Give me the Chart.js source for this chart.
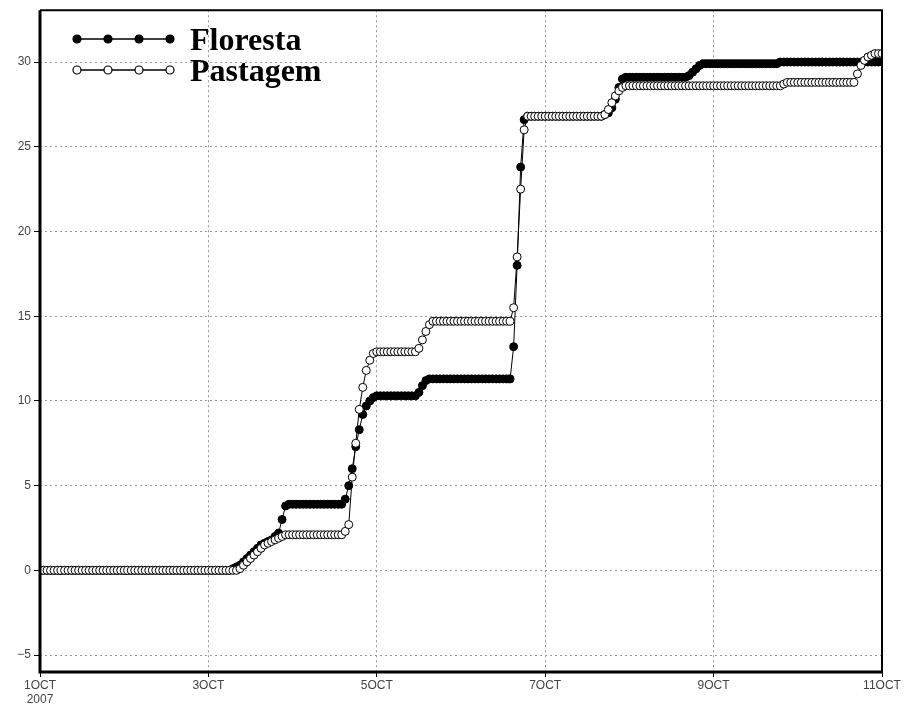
<!DOCTYPE html>
<html>
<head>
<meta charset="utf-8">
<script src="https://cdn.jsdelivr.net/npm/chart.js@4/dist/chart.umd.min.js"></script>
<style>
  html, body { margin: 0; padding: 0; background: #fff; }
  #wrap { width: 908px; height: 713px; }
</style>
</head>
<body>
<div id="wrap"><canvas id="c" width="908" height="713"></canvas></div>
<script>
// Time axis: hours after 1 OCT 2007 00:00 (hourly samples)
const hours = Array.from({ length: 241 }, (_, i) => i);

// Cumulative rainfall (hourly)
const floresta = [
  0,0,0,0,0,0, 0,0,0,0,0,0, 0,0,0,0,0,0, 0,0,0,0,0,0,
  0,0,0,0,0,0, 0,0,0,0,0,0, 0,0,0,0,0,0, 0,0,0,0,0,0,
  0,0,0,0,0,0,0, 0.1,0.2,0.3,0.5,0.7,0.9,1.1,1.3,1.5,1.6,1.7,1.8,2.0,2.2,3.0,3.8, 3.9,
  3.9,3.9,3.9,3.9,3.9,3.9,3.9,3.9,3.9,3.9,3.9,3.9,3.9,3.9,3.9, 4.2,5.0,6.0,7.3,8.3,9.2,9.7,10.0,10.2,
  10.3,10.3,10.3,10.3,10.3,10.3,10.3,10.3,10.3,10.3,10.3,10.3, 10.5,10.9,11.2, 11.3,11.3,11.3,11.3,11.3,11.3,11.3,11.3,11.3,
  11.3,11.3,11.3,11.3,11.3,11.3,11.3,11.3,11.3,11.3,11.3,11.3,11.3,11.3,11.3, 13.2,18.0,23.8,26.6, 26.8,26.8,26.8,26.8,26.8,
  26.8,26.8,26.8,26.8,26.8,26.8,26.8,26.8,26.8,26.8,26.8,26.8,26.8,26.8,26.8,26.8,26.8, 26.9,27.0,27.3,27.8,28.5,29.0, 29.1,
  29.1,29.1,29.1,29.1,29.1,29.1,29.1,29.1,29.1,29.1,29.1,29.1,29.1,29.1,29.1,29.1,29.1, 29.2,29.4,29.6,29.8, 29.9,29.9,29.9,
  29.9,29.9,29.9,29.9,29.9,29.9,29.9,29.9,29.9,29.9,29.9,29.9,29.9,29.9,29.9,29.9,29.9,29.9,29.9, 30.0,30.0,30.0,30.0,30.0,
  30.0,30.0,30.0,30.0,30.0,30.0,30.0,30.0,30.0,30.0,30.0,30.0,30.0,30.0,30.0,30.0,30.0,30.0,30.0,30.0,30.0,30.0,30.0,30.0,
  30.0
];
const pastagem = [
  0,0,0,0,0,0, 0,0,0,0,0,0, 0,0,0,0,0,0, 0,0,0,0,0,0,
  0,0,0,0,0,0, 0,0,0,0,0,0, 0,0,0,0,0,0, 0,0,0,0,0,0,
  0,0,0,0,0,0,0,0,0, 0.1,0.3,0.5,0.7,0.9,1.1,1.3,1.5,1.6,1.7,1.8,1.9,2.0,2.1, 2.1,
  2.1,2.1,2.1,2.1,2.1,2.1,2.1,2.1,2.1,2.1,2.1,2.1,2.1,2.1,2.1, 2.3,2.7,5.5,7.5,9.5,10.8,11.8,12.4,12.8,
  12.9,12.9,12.9,12.9,12.9,12.9,12.9,12.9,12.9,12.9,12.9,12.9, 13.1,13.6,14.1,14.5, 14.7,14.7,14.7,14.7,14.7,14.7,14.7,14.7,
  14.7,14.7,14.7,14.7,14.7,14.7,14.7,14.7,14.7,14.7,14.7,14.7,14.7,14.7,14.7, 15.5,18.5,22.5,26.0, 26.8,26.8,26.8,26.8,26.8,
  26.8,26.8,26.8,26.8,26.8,26.8,26.8,26.8,26.8,26.8,26.8,26.8,26.8,26.8,26.8,26.8,26.8, 26.9,27.2,27.6,28.0,28.3,28.5, 28.6,
  28.6,28.6,28.6,28.6,28.6,28.6,28.6,28.6,28.6,28.6,28.6,28.6,28.6,28.6,28.6,28.6,28.6,28.6,28.6,28.6,28.6,28.6,28.6,28.6,
  28.6,28.6,28.6,28.6,28.6,28.6,28.6,28.6,28.6,28.6,28.6,28.6,28.6,28.6,28.6,28.6,28.6,28.6,28.6,28.6, 28.7, 28.8,28.8,28.8,
  28.8,28.8,28.8,28.8,28.8,28.8,28.8,28.8,28.8,28.8,28.8,28.8,28.8,28.8,28.8,28.8,28.8, 29.3,29.8,30.1,30.3,30.4,30.5,30.5,
  30.5
];

const seriesNames = ['Floresta', 'Pastagem'];
const xTickHours = [0, 48, 96, 144, 192, 240];
const xTickLabels = [['1OCT', '2007'], '3OCT', '5OCT', '7OCT', '9OCT', '11OCT'];
const yTicks = [-5, 0, 5, 10, 15, 20, 25, 30];

const toXY = (arr) => arr.map((v, i) => ({ x: hours[i], y: v }));

const legendPlugin = {
  id: 'gradsLegend',
  afterDraw(chart) {
    const ctx = chart.ctx;
    const rows = [
      { y: 39, base: 50, fill: '#000', name: seriesNames[0] },
      { y: 70, base: 81, fill: '#fff', name: seriesNames[1] }
    ];
    const xs = [77, 108, 139, 170];
    ctx.save();
    rows.forEach(r => {
      ctx.strokeStyle = '#000';
      ctx.lineWidth = 1.5;
      ctx.beginPath();
      ctx.moveTo(xs[0], r.y);
      ctx.lineTo(xs[3], r.y);
      ctx.stroke();
      xs.forEach(x => {
        ctx.beginPath();
        ctx.arc(x, r.y, 4, 0, Math.PI * 2);
        ctx.fillStyle = r.fill;
        ctx.fill();
        ctx.lineWidth = 1.2;
        ctx.stroke();
      });
      ctx.fillStyle = '#000';
      ctx.font = 'bold 32px "Liberation Serif", "DejaVu Serif", serif';
      ctx.textBaseline = 'alphabetic';
      ctx.textAlign = 'left';
      ctx.fillText(r.name, 190, r.base);
    });
    // frame
    const a = chart.chartArea;
    ctx.strokeStyle = '#000';
    ctx.lineWidth = 2;
    ctx.beginPath();
    ctx.moveTo(a.left, a.top); ctx.lineTo(a.right, a.top); ctx.lineTo(a.right, a.bottom);
    ctx.stroke();
    ctx.lineWidth = 3;
    ctx.beginPath();
    ctx.moveTo(a.left, a.top); ctx.lineTo(a.left, a.bottom); ctx.lineTo(a.right, a.bottom);
    ctx.stroke();
    ctx.restore();
  }
};

new Chart(document.getElementById('c'), {
  type: 'line',
  data: {
    datasets: [
      {
        label: seriesNames[0],
        data: toXY(floresta),
        borderColor: '#000',
        borderWidth: 1,
        backgroundColor: '#000',
        pointBackgroundColor: '#000',
        pointBorderColor: '#000',
        pointRadius: 4,
        pointBorderWidth: 1,
        tension: 0,
        order: 1
      },
      {
        label: seriesNames[1],
        data: toXY(pastagem),
        borderColor: '#000',
        borderWidth: 1,
        backgroundColor: '#fff',
        pointBackgroundColor: '#fff',
        pointBorderColor: '#000',
        pointRadius: 4,
        pointBorderWidth: 1,
        tension: 0,
        order: 0
      }
    ]
  },
  options: {
    responsive: false,
    animation: false,
    events: [],
    layout: { padding: { top: 8, right: 26, left: 0, bottom: 0 } },
    plugins: { legend: { display: false }, tooltip: { enabled: false } },
    scales: {
      x: {
        type: 'linear',
        min: 0,
        max: 240,
        afterBuildTicks: (s) => { s.ticks = xTickHours.map(v => ({ value: v })); },
        afterFit: (s) => { s.height = 41; },
        ticks: {
          autoSkip: false,
          maxRotation: 0,
          padding: 1,
          color: '#444',
          font: { family: '"Liberation Sans", Arial, sans-serif', size: 12 },
          callback: (v) => xTickLabels[xTickHours.indexOf(v)]
        },
        grid: { color: '#999', lineWidth: 1, tickLength: 5, tickColor: '#000', tickWidth: 1 },
        border: { display: false, dash: [2, 3] }
      },
      y: {
        type: 'linear',
        min: -6,
        max: 33.06,
        afterBuildTicks: (s) => { s.ticks = yTicks.map(v => ({ value: v })); },
        afterFit: (s) => { s.width = 40; },
        ticks: {
          padding: 3,
          color: '#444',
          font: { family: '"Liberation Sans", Arial, sans-serif', size: 12 },
          callback: (v) => String(v).replace('-', '\u2212')
        },
        grid: { color: '#999', lineWidth: 1, tickLength: 6, tickColor: '#000', tickWidth: 1 },
        border: { display: false, dash: [2, 3] }
      }
    }
  },
  plugins: [legendPlugin]
});
</script>
</body>
</html>
